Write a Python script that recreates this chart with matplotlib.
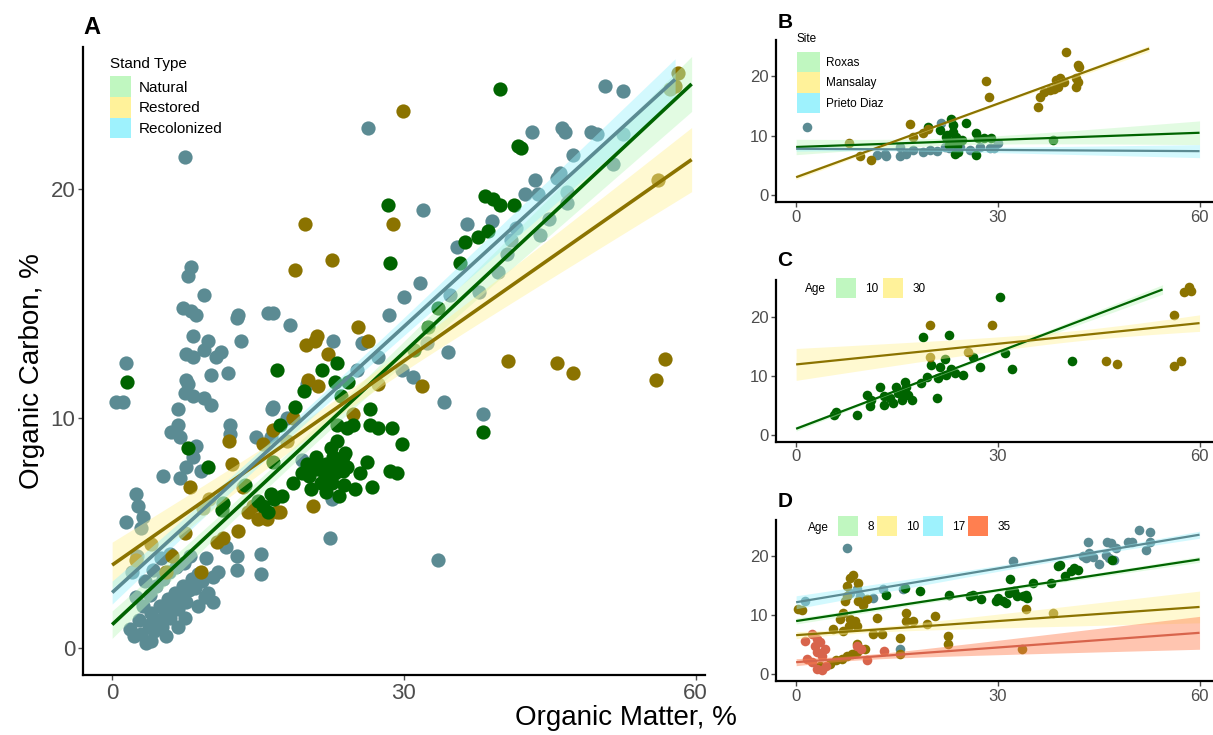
import numpy as np
import matplotlib.pyplot as plt
from matplotlib.patches import Patch
from matplotlib.legend_handler import HandlerPatch

plt.rcParams['font.family'] = ['Liberation Sans', 'DejaVu Sans']

# ---------------- colours ----------------
green = "#006400"
gold = "#8b7300"
teal = "#5b8b93"
coral = "#d8644c"
key_green = "#c0f7c0"
key_yellow = "#fff29a"
key_cyan = "#9ef2fd"
key_coral = "#ff7f50"

# ---------------- panel A : stand type ----------------
a_nat_x = [39.9, 41.7, 42.0, 28.4, 28.6, 38.4, 39.2, 39.9, 41.3, 36.3, 37.6, 38.7, 35.8,
           26.5, 26.5, 27.3, 28.8, 29.8, 38.1, 28.6, 29.3, 17.0, 21.6, 23.1, 22.9, 23.5,
           19.7, 18.8, 17.3, 24.8, 26.2, 25.5, 26.7, 23.1, 24.2, 23.1, 22.7, 23.7, 21.1,
           21.7, 22.2, 22.9, 23.7, 24.2, 19.5, 20.2, 18.6, 21.9, 22.6, 23.8, 16.3, 16.6,
           16.5, 1.5, 7.8, 9.9, 15.5, 11.3, 13.7, 11.4, 20.0, 21.0, 22.0, 23.0, 24.0, 22.5,
           21.5, 20.5, 22.0, 23.3, 25.0, 16.0, 15.0, 17.5, 24.3, 32.5, 33.5, 31.0]
a_nat_y = [24.4, 21.9, 21.8, 19.3, 16.8, 19.7, 19.6, 19.3, 19.3, 17.7, 17.9, 18.2, 16.8,
           10.4, 9.7, 9.6, 9.6, 8.9, 9.4, 7.7, 7.6, 12.1, 12.1, 12.4, 11.6, 11.0,
           11.2, 10.5, 9.7, 9.7, 8.1, 7.6, 7.0, 9.7, 9.6, 9.0, 8.3, 8.3, 7.8,
           7.8, 7.7, 7.6, 7.7, 7.9, 7.6, 7.5, 7.2, 7.5, 7.2, 7.1, 6.7, 6.5,
           8.1, 11.6, 8.7, 7.9, 6.2, 6.0, 7.1, 6.3, 8.0, 8.3, 8.0, 7.9, 8.5, 8.7,
           7.2, 6.9, 6.8, 6.6, 6.9, 5.9, 6.4, 6.6, 11.6, 14.0, 14.8, 13.0]

a_res_x = [58.2, 57.4, 57.9, 29.9, 28.9, 25.3, 26.3, 40.7, 45.8, 47.4, 56.9, 55.9, 56.1,
           31.9, 27.3, 24.8, 19.8, 22.6, 18.8, 19.9, 20.9, 21.1, 22.2, 20.1, 21.2, 20.7,
           17.3, 18.6, 15.5, 12.3, 14.5, 15.0, 15.9, 14.0, 17.0, 12.9, 10.8, 9.1, 6.2,
           9.3, 11.4, 5.5, 15.5, 13.5, 10.0, 7.5, 4.0, 2.5, 8.0, 12.0, 16.5, 18.0]
a_res_y = [25.1, 24.4, 24.5, 23.4, 18.5, 14.0, 13.4, 12.5, 12.4, 12.0, 12.6, 11.7, 20.4,
           11.4, 11.5, 10.2, 18.5, 16.9, 16.5, 13.2, 13.4, 13.6, 12.8, 11.7, 11.4, 6.2,
           5.9, 10.0, 8.9, 8.0, 6.2, 5.6, 5.6, 5.9, 5.9, 5.1, 4.6, 3.3, 4.0,
           6.1, 4.8, 3.3, 5.7, 7.0, 6.5, 5.0, 4.5, 3.8, 7.0, 9.0, 9.5, 9.0]

a_rec_x = [50.7, 52.5, 43.2, 46.3, 46.6, 49.2, 49.9, 47.4, 52.5, 43.5, 42.5, 43.8, 45.8,
           46.1, 51.5, 39.1, 41.5, 46.8, 46.8, 44.9, 40.6, 39.7, 37.7,
           26.3, 32.0, 31.7, 34.8, 25.8, 27.3, 25.2, 32.4, 34.5, 29.8, 30.9, 34.1, 38.1, 33.5,
           16.5, 18.3, 22.7, 25.7, 16.5, 22.6, 22.4, 9.4, 12.9, 16.0,
           7.5, 8.1, 7.8, 7.3, 8.1, 8.6, 12.8, 8.3, 9.9, 9.4, 7.6, 8.3, 11.2, 10.7, 13.3,
           1.4, 7.6, 10.2, 11.9, 7.8, 7.5, 8.3, 9.4, 10.2, 6.8, 0.4, 1.1, 16.4, 12.1, 12.1,
           6.8, 6.1, 7.0, 8.6, 8.3, 7.6, 5.2, 7.0, 9.1, 2.5, 2.7, 3.2, 1.4, 3.0, 11.7, 12.8,
           15.3, 12.8, 15.3, 9.7, 10.4, 10.9, 9.9, 10.4, 16.3, 19.5, 14.8, 18.0, 20.0, 28.5,
           30.0, 35.5, 36.5, 41.0, 44.0,
           1.8, 2.2, 2.8, 3.0, 3.5, 3.8, 4.0, 4.3, 4.6, 4.9, 5.1, 5.4, 5.7, 6.0, 6.2, 6.5,
           6.8, 7.0, 7.3, 7.6, 7.9, 8.2, 8.5, 8.8, 9.2, 3.2, 3.9, 4.5, 5.2, 5.8, 6.6, 7.4,
           8.0, 2.5, 3.4, 4.2, 5.0, 6.0, 2.0, 2.6, 5.5, 6.8, 7.5, 8.8, 9.6, 4.0]
a_rec_y = [24.5, 24.3, 22.5, 22.7, 22.5, 22.5, 22.4, 21.5, 22.4, 20.4, 19.8, 19.8, 20.5,
           20.7, 21.1, 18.6, 18.3, 19.9, 19.4, 18.7, 17.2, 16.4, 15.5,
           22.7, 19.1, 15.9, 15.4, 13.3, 12.7, 12.1, 13.3, 12.9, 12.1, 11.8, 10.7, 10.2, 3.8,
           14.6, 14.1, 13.4, 13.3, 10.5, 6.5, 4.8, 15.4, 14.5, 14.6,
           21.4, 16.6, 16.2, 14.8, 14.7, 14.5, 14.4, 13.6, 13.4, 13.0, 12.8, 12.7, 12.9, 12.7, 13.4,
           12.4, 11.7, 11.9, 12.0, 11.5, 11.1, 11.0, 10.9, 10.6, 10.4, 10.7, 10.7, 10.4, 9.7, 9.3,
           9.7, 9.4, 9.2, 8.8, 8.3, 7.9, 7.5, 7.4, 7.7, 6.7, 6.2, 5.7, 5.5, 5.2, 4.4, 4.0,
           4.1, 3.4, 3.2, 3.9, 3.1, 3.3, 2.4, 2.0, 9.2, 8.2, 9.2, 10.0, 11.5, 14.5,
           15.3, 17.5, 18.5, 17.8, 18.0,
           0.8, 0.5, 1.2, 0.6, 0.2, 1.0, 1.5, 0.7, 1.2, 1.8, 0.9, 1.5, 2.1, 1.3, 1.8, 2.4,
           1.7, 2.2, 2.7, 2.0, 2.5, 3.0, 2.6, 3.2, 2.9, 1.8, 2.3, 2.7, 3.0, 3.3, 3.5, 3.7,
           4.0, 2.2, 2.9, 3.4, 3.9, 4.1, 3.3, 4.0, 0.5, 0.9, 1.3, 1.8, 2.2, 0.3]

# fits: x_start, x_end, y_start, y_end, half-width start, end, minimum
a_fits = {"Natural": (0.0, 59.6, 1.0, 24.6, 0.6, 1.2, 0.35),
          "Restored": (0.0, 59.6, 3.6, 21.3, 1.0, 1.4, 0.4),
          "Recolonized": (0.0, 57.9, 2.4, 24.8, 0.5, 0.9, 0.3)}

# ---------------- panel B : site ----------------
b_rox_x = [23.1, 23.3, 23.3, 22.3, 23.8, 24.6, 25.3, 26.8, 27.1, 28.0, 29.0, 26.8, 23.6,
           24.1, 19.6, 21.4, 38.2, 22.8, 23.0, 24.0, 22.5]
b_rox_y = [12.9, 11.8, 10.7, 9.8, 9.8, 9.3, 12.1, 10.4, 9.6, 9.6, 9.6, 6.7, 7.0,
           7.3, 11.5, 11.0, 9.3, 8.5, 9.0, 8.2, 10.2]
b_man_x = [7.9, 9.5, 11.2, 16.9, 17.4, 18.9, 19.6, 28.3, 28.7, 36.0, 36.2, 36.9, 37.7,
           38.4, 38.9, 38.6, 39.2, 39.9, 40.2, 41.6, 41.9, 41.6, 41.9, 42.1]
b_man_y = [8.7, 6.5, 5.9, 12.0, 9.8, 10.4, 11.2, 19.2, 16.6, 14.9, 16.6, 17.4, 17.7,
           17.8, 18.3, 19.4, 19.7, 19.1, 24.2, 19.7, 19.1, 18.3, 21.9, 21.6]
b_pri_x = [1.6, 12.0, 13.4, 13.2, 15.4, 15.4, 16.4, 17.4, 18.9, 19.9, 20.9, 21.6, 22.1,
           22.8, 24.3, 25.8, 27.3, 28.8, 29.5, 30.0]
b_pri_y = [11.4, 6.7, 6.5, 7.0, 8.1, 6.5, 7.0, 7.6, 7.3, 7.6, 7.5, 12.1, 8.1,
           7.9, 8.1, 7.6, 8.1, 7.9, 7.9, 8.7]
b_fits = {"Roxas": (0.0, 60.0, 8.1, 10.5, 1.3, 2.0, 0.6),
          "Mansalay": (0.0, 52.5, 3.0, 24.7, 0.4, 0.5, 0.2),
          "Prieto Diaz": (0.0, 60.0, 7.8, 7.4, 0.4, 1.1, 0.25)}

# ---------------- panel C : age ----------------
c_10_x = [5.6, 6.0, 9.0, 10.5, 11.0, 11.2, 12.5, 13.0, 13.0, 13.9, 14.4, 14.9, 15.2, 15.7,
          15.9, 16.2, 16.4, 16.7, 17.2, 18.6, 18.9, 19.4, 20.1, 20.9, 21.1, 21.4, 22.1, 22.8,
          22.3, 23.1, 23.6, 24.8, 26.3, 27.3, 30.3, 31.0, 32.1, 41.0]
c_10_y = [3.4, 3.9, 3.4, 6.7, 4.8, 5.9, 8.1, 6.5, 5.1, 6.2, 5.3, 8.1, 7.0, 5.9,
          7.3, 9.0, 8.1, 6.7, 5.9, 8.7, 16.5, 9.8, 11.8, 6.2, 9.6, 11.5, 12.9, 16.9,
          10.1, 11.2, 10.4, 10.1, 13.2, 11.5, 23.3, 13.8, 11.2, 12.5]
c_30_x = [19.9, 19.9, 25.6, 29.2, 46.1, 47.7, 56.2, 56.2, 57.2, 57.7, 58.4, 58.8]
c_30_y = [18.5, 13.2, 14.0, 18.5, 12.5, 12.0, 20.3, 11.7, 12.5, 24.2, 25.0, 24.4]
c_fits = {"10": (0.0, 54.5, 1.0, 24.6, 0.4, 0.8, 0.2),
          "30": (0.0, 60.0, 11.9, 18.9, 2.7, 1.4, 0.9)}

# ---------------- panel D : age ----------------
d_8_x = [13.4, 16.2, 18.4, 22.8, 25.8, 26.3, 27.5, 29.8, 30.0, 30.7, 31.2, 31.7, 31.8, 32.4,
         32.9, 33.7, 34.2, 34.4, 35.2, 37.9, 38.9, 39.2, 40.0, 40.9, 41.4, 41.9, 47.0]
d_8_y = [13.5, 14.6, 14.1, 13.5, 13.2, 13.5, 12.7, 12.4, 13.0, 12.4, 12.1, 13.8, 16.1, 14.1,
         13.2, 13.2, 13.5, 13.0, 15.5, 15.5, 18.3, 18.6, 16.6, 17.5, 18.0, 17.7, 19.4]
d_10_x = [0.3, 0.8, 5.5, 6.5, 7.0, 7.3, 7.5, 7.5, 8.0, 8.5, 9.2, 8.0, 8.7, 9.0, 7.0, 7.8,
          9.2, 10.0, 10.5, 11.5, 12.0, 12.7, 15.4, 16.4, 16.4, 17.4, 19.4, 20.6, 22.6, 22.6,
          15.4, 34.2, 38.2, 33.6, 3.6, 5.0, 6.0, 6.8, 7.5, 8.3, 9.0, 10.2, 9.0]
d_10_y = [11.0, 10.9, 7.6, 9.3, 10.4, 12.4, 13.2, 14.9, 16.3, 16.9, 15.5, 9.3, 9.0, 8.2, 7.3, 8.2,
          12.4, 11.8, 12.7, 6.8, 9.6, 6.8, 6.2, 10.4, 9.0, 9.0, 8.5, 9.9, 6.5, 5.1,
          3.4, 11.0, 10.4, 4.2, 1.4, 1.7, 2.3, 2.5, 3.1, 3.4, 3.7, 4.2, 5.1]
d_17_x = [7.5, 1.3, 11.5, 12.9, 15.9, 15.4, 32.2, 43.4, 42.6, 43.1, 44.1, 43.6, 45.1, 46.3,
          46.8, 47.6, 46.1, 46.6, 47.3, 49.3, 50.0, 51.0, 52.7, 52.0, 52.7, 9.5, 9.0, 8.0]
d_17_y = [21.4, 12.4, 13.0, 14.5, 14.5, 4.2, 19.2, 22.5, 20.0, 19.7, 19.9, 20.6, 18.7, 22.5,
          22.3, 21.4, 20.3, 19.7, 19.4, 22.5, 22.5, 24.5, 24.2, 21.1, 22.5, 13.2, 14.4, 13.8]
d_35_x = [1.3, 2.3, 3.1, 2.8, 3.6, 3.1, 3.8, 2.3, 3.1, 3.8, 4.5, 1.6, 9.0, 9.7, 10.5, 13.0, 4.3]
d_35_y = [5.6, 6.8, 5.9, 4.8, 5.4, 3.7, 3.1, 2.0, 0.8, 0.6, 1.4, 2.5, 4.8, 4.2, 2.3, 3.9, 4.2]
d_fits = {"8": (0.0, 60.0, 9.0, 19.5, 0.5, 0.5, 0.3),
          "10": (0.0, 60.0, 6.6, 11.4, 0.6, 2.7, 0.4),
          "17": (0.0, 60.0, 12.2, 23.7, 1.1, 0.6, 0.4),
          "35": (0.0, 60.0, 2.0, 7.0, 0.6, 2.8, 0.4)}

tick_grey = "#4d4d4d"
keys = {Patch: HandlerPatch(ypad=0)}


def draw_fit(ax, fit, line_col, band_col, lw):
    x0, x1, y0, y1, h0, h1, hm = fit
    xs = np.linspace(x0, x1, 120)
    ys = y0 + (y1 - y0) * (xs - x0) / (x1 - x0)
    r = np.sqrt((h0 ** 2 - hm ** 2) / (h1 ** 2 - hm ** 2))
    xc = (x0 + r * x1) / (1 + r)
    k = (h1 ** 2 - hm ** 2) / (x1 - xc) ** 2
    hw = np.sqrt(hm ** 2 + k * (xs - xc) ** 2)
    ax.fill_between(xs, ys - hw, ys + hw, color=band_col, alpha=0.45, lw=0, zorder=3)
    ax.plot(xs, ys, color=line_col, lw=lw, zorder=4, solid_capstyle="butt")


def style(ax, fs):
    ax.set_xlim(-3, 62)
    ax.set_ylim(-1.2, 26.2)
    ax.set_xticks([0, 30, 60])
    ax.set_yticks([0, 10, 20])
    for s in ["top", "right"]:
        ax.spines[s].set_visible(False)
    for s in ["left", "bottom"]:
        ax.spines[s].set_linewidth(1.6)
    ax.tick_params(length=3.5, width=1, colors=tick_grey, labelsize=fs, pad=2)


def key_patches(cols, labels):
    return [Patch(facecolor=c, edgecolor="none", label=l) for c, l in zip(cols, labels)]


fig = plt.figure(figsize=(12.13, 7.35), dpi=100)

# ---- A ----
axA = fig.add_axes([0.0684, 0.0816, 0.513, 0.854])
pt = 105
axA.scatter(a_rec_x, a_rec_y, s=pt, color=teal, lw=0, zorder=2)
axA.scatter(a_res_x, a_res_y, s=pt, color=gold, lw=0, zorder=2)
axA.scatter(a_nat_x, a_nat_y, s=pt, color=green, lw=0, zorder=2)
draw_fit(axA, a_fits["Natural"], green, key_green, 2.6)
draw_fit(axA, a_fits["Restored"], gold, key_yellow, 2.6)
draw_fit(axA, a_fits["Recolonized"], teal, key_cyan, 2.6)
style(axA, 16)
axA.set_xlim(-3, 61)
legA = axA.legend(handles=key_patches([key_green, key_yellow, key_cyan],
                                      ["Natural", "Restored", "Recolonized"]),
                  handler_map=keys, title="Stand Type", loc="upper left",
                  bbox_to_anchor=(0.043, 0.985), frameon=False, fontsize=11,
                  title_fontsize=11, alignment="left", handlelength=1.37,
                  handleheight=1.7, labelspacing=0.0, handletextpad=0.55,
                  borderpad=0, borderaxespad=0)
legA._legend_box.sep = 4

# ---- B ----
axB = fig.add_axes([0.6397, 0.725, 0.3603, 0.221])
ps = 48
axB.scatter(b_pri_x, b_pri_y, s=ps, color=teal, lw=0, zorder=2)
axB.scatter(b_rox_x, b_rox_y, s=ps, color=green, lw=0, zorder=2)
axB.scatter(b_man_x, b_man_y, s=ps, color=gold, lw=0, zorder=2)
draw_fit(axB, b_fits["Roxas"], green, key_green, 1.6)
draw_fit(axB, b_fits["Mansalay"], gold, key_yellow, 1.6)
draw_fit(axB, b_fits["Prieto Diaz"], teal, key_cyan, 1.6)
style(axB, 12)
legB = axB.legend(handles=key_patches([key_green, key_yellow, key_cyan],
                                      ["Roxas", "Mansalay", "Prieto Diaz"]),
                  handler_map=keys, title="Site", loc="upper left",
                  bbox_to_anchor=(0.048, 1.042), frameon=False, fontsize=8.5,
                  title_fontsize=8.5, alignment="left", handlelength=1.95,
                  handleheight=2.3, labelspacing=0.0, handletextpad=0.55,
                  borderpad=0, borderaxespad=0)
legB._legend_box.sep = 5

# ---- C ----
axC = fig.add_axes([0.6397, 0.399, 0.3603, 0.220])
axC.scatter(c_10_x, c_10_y, s=ps, color=green, lw=0, zorder=2)
axC.scatter(c_30_x, c_30_y, s=ps, color=gold, lw=0, zorder=2)
draw_fit(axC, c_fits["10"], green, key_green, 1.6)
draw_fit(axC, c_fits["30"], gold, key_yellow, 1.6)
style(axC, 12)
axC.legend(handles=key_patches([key_green, key_yellow], ["10", "30"]),
           handler_map=keys, loc="upper left", bbox_to_anchor=(0.137, 1.01), ncol=2,
           frameon=False, fontsize=8.5, handlelength=1.7, handleheight=2.2,
           handletextpad=0.8, columnspacing=0.4, borderpad=0, borderaxespad=0)
axC.text(0.066, 0.944, "Age", transform=axC.transAxes, fontsize=8.5, va="center")

# ---- D ----
axD = fig.add_axes([0.6397, 0.0735, 0.3603, 0.219])
axD.scatter(d_17_x, d_17_y, s=ps, color=teal, lw=0, zorder=2)
axD.scatter(d_8_x, d_8_y, s=ps, color=green, lw=0, zorder=2)
axD.scatter(d_10_x, d_10_y, s=ps, color=gold, lw=0, zorder=2)
axD.scatter(d_35_x, d_35_y, s=ps, color=coral, lw=0, zorder=2)
draw_fit(axD, d_fits["8"], green, key_green, 1.6)
draw_fit(axD, d_fits["10"], gold, key_yellow, 1.6)
draw_fit(axD, d_fits["17"], teal, key_cyan, 1.6)
draw_fit(axD, d_fits["35"], coral, key_coral, 1.6)
style(axD, 12)
axD.legend(handles=key_patches([key_green, key_yellow, key_cyan, key_coral],
                               ["8", "10", "17", "35"]),
           handler_map=keys, loc="upper left", bbox_to_anchor=(0.142, 1.025), ncol=4,
           frameon=False, fontsize=8.5, handlelength=1.7, handleheight=2.2,
           handletextpad=0.8, columnspacing=0.25, borderpad=0, borderaxespad=0)
axD.text(0.073, 0.95, "Age", transform=axD.transAxes, fontsize=8.5, va="center")

# ---- labels ----
fig.text(0.0684, 0.962, "A", fontsize=17, fontweight="bold", va="center")
fig.text(0.641, 0.970, "B", fontsize=15, fontweight="bold", va="center")
fig.text(0.641, 0.646, "C", fontsize=15, fontweight="bold", va="center")
fig.text(0.641, 0.318, "D", fontsize=15, fontweight="bold", va="center")
fig.text(0.026, 0.495, "Organic Carbon, %", rotation=90, fontsize=20, ha="center", va="center")
fig.text(0.516, 0.023, "Organic Matter, %", fontsize=20, ha="center", va="center")

fig.savefig("out.png", dpi=100, facecolor="white")
